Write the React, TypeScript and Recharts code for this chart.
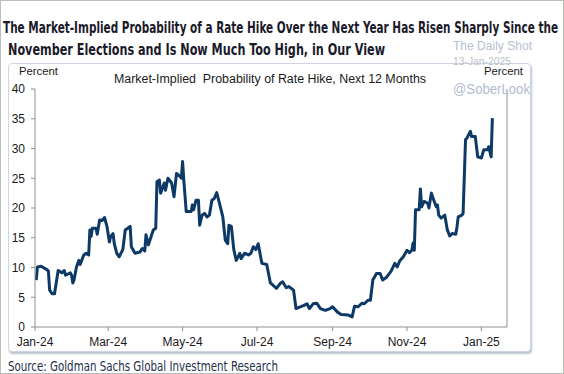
import React from "react";
import { LineChart, Line, XAxis, YAxis } from "recharts";

const dates: string[] = [
  "2024-01-02","2024-01-03","2024-01-06","2024-01-11","2024-01-12","2024-01-13","2024-01-15","2024-01-17","2024-01-20","2024-01-23",
  "2024-01-25","2024-01-26","2024-01-30","2024-01-31","2024-02-01","2024-02-02","2024-02-04","2024-02-06","2024-02-07","2024-02-10",
  "2024-02-12","2024-02-14","2024-02-15","2024-02-16","2024-02-17","2024-02-20","2024-02-21","2024-02-23","2024-02-25","2024-02-27",
  "2024-02-29","2024-03-02","2024-03-03","2024-03-05","2024-03-06","2024-03-08","2024-03-10","2024-03-13","2024-03-15","2024-03-19",
  "2024-03-20","2024-03-23","2024-03-27","2024-03-29","2024-03-31","2024-04-01","2024-04-03","2024-04-06","2024-04-07","2024-04-09",
  "2024-04-10","2024-04-12","2024-04-13","2024-04-15","2024-04-16","2024-04-17","2024-04-19","2024-04-22","2024-04-24","2024-04-26",
  "2024-04-29","2024-04-30","2024-05-01","2024-05-02","2024-05-04","2024-05-08","2024-05-09","2024-05-10","2024-05-12","2024-05-14",
  "2024-05-15","2024-05-17","2024-05-19","2024-05-21","2024-05-23","2024-05-25","2024-05-27","2024-05-29","2024-05-31","2024-06-03",
  "2024-06-05","2024-06-07","2024-06-08","2024-06-10","2024-06-12","2024-06-14","2024-06-17","2024-06-18","2024-06-21","2024-06-24",
  "2024-06-26","2024-06-28","2024-06-30","2024-07-02","2024-07-05","2024-07-09","2024-07-12","2024-07-17","2024-07-20","2024-07-22",
  "2024-07-25","2024-07-27","2024-07-31","2024-08-02","2024-08-08","2024-08-11","2024-08-13","2024-08-16","2024-08-19","2024-08-22",
  "2024-08-26","2024-08-30","2024-09-01","2024-09-05","2024-09-08","2024-09-14","2024-09-17","2024-09-19","2024-09-22","2024-09-25",
  "2024-09-27","2024-09-30","2024-10-02","2024-10-04","2024-10-07","2024-10-10","2024-10-12","2024-10-15","2024-10-19","2024-10-22",
  "2024-10-24","2024-10-26","2024-10-29","2024-11-01","2024-11-03","2024-11-05","2024-11-06","2024-11-07","2024-11-08","2024-11-11",
  "2024-11-12","2024-11-13","2024-11-15","2024-11-18","2024-11-19","2024-11-21","2024-11-23","2024-11-25","2024-11-26","2024-11-27",
  "2024-11-29","2024-12-02","2024-12-04","2024-12-06","2024-12-08","2024-12-11","2024-12-12","2024-12-13","2024-12-16","2024-12-17",
  "2024-12-19","2024-12-20","2024-12-23","2024-12-24","2024-12-27","2024-12-29","2025-01-01","2025-01-03","2025-01-06","2025-01-07",
  "2025-01-09","2025-01-10",
];

const probability: number[] = [
  7.9,10.1,10.2,9.6,9.4,6.2,5.6,5.6,9.5,9.1,
  9.5,8.7,9.1,8.7,7.4,7.9,10.1,11.2,10.5,12.1,
  12.4,12.1,16.3,15.2,16.6,16.6,15.6,18.0,17.9,18.4,
  16.9,14.3,15.2,15.7,14.0,12.4,11.8,13.0,16.3,16.9,
  13.5,12.4,12.6,13.2,12.8,15.5,13.8,15.7,16.3,16.6,
  24.4,24.7,22.5,23.6,24.2,23.0,25.0,24.2,21.9,25.8,
  25.3,25.0,27.8,24.7,19.4,19.4,20.5,19.7,21.3,21.3,
  17.1,18.8,19.1,18.5,18.8,21.3,21.6,22.6,21.0,18.5,
  14.6,14.0,17.1,16.9,13.0,11.2,12.4,11.5,12.4,12.1,
  12.4,13.5,13.0,14.0,10.7,10.5,7.4,6.5,7.3,7.6,
  6.6,6.8,6.2,3.1,3.6,3.9,3.1,3.9,4.0,3.1,
  2.8,3.1,3.4,2.5,2.1,2.0,1.7,3.5,3.4,4.0,
  3.9,4.5,4.5,7.9,9.0,9.0,7.9,8.3,9.4,10.7,
  10.1,11.1,11.8,12.9,12.5,12.9,14.1,12.9,19.7,19.7,
  23.2,20.2,21.1,20.8,20.0,22.5,21.3,20.2,20.5,18.8,
  18.3,18.8,16.4,15.3,15.7,15.6,16.8,18.5,18.8,19.1,
  31.5,31.7,32.9,32.0,32.0,28.6,28.4,29.8,29.8,30.3,
  28.6,35.1,
];

const xTickDates: string[] = ["2024-01-01","2024-03-01","2024-05-01","2024-07-01","2024-09-01","2024-11-01","2025-01-01"];
const xDomainDates: string[] = ["2024-01-01","2025-01-22"];
const yTicks: number[] = [0, 5, 10, 15, 20, 25, 30, 35, 40];
const monthNames: string[] = ["Jan","Feb","Mar","Apr","May","Jun","Jul","Aug","Sep","Oct","Nov","Dec"];

const toT = (s: string) => Date.UTC(+s.slice(0, 4), +s.slice(5, 7) - 1, +s.slice(8, 10));
const fmt = (t: number) => {
  const d = new Date(t);
  return monthNames[d.getUTCMonth()] + "-" + String(d.getUTCFullYear()).slice(2);
};

const data = dates.map((d, i) => ({ t: toT(d), v: probability[i] }));

const SANS = "'Liberation Sans', Arial, sans-serif";
const NARROW = "'Liberation Sans Narrow', 'DejaVu Sans Condensed', 'Roboto Condensed', sans-serif";
const axisColor = "#8f8f8f";
const tickStyle = { fill: "#1a1a1a", fontSize: 12, fontFamily: SANS };

export default function App() {
  return (
    <div
      style={{
        position: "absolute",
        left: 0,
        top: 0,
        width: 564,
        height: 374,
        background: "#fff",
        boxSizing: "border-box",
        border: "1px solid #b9c0b9",
        overflow: "hidden",
      }}
    >
      {/* chart panel box */}
      <div
        style={{
          position: "absolute",
          left: 7,
          top: 62,
          width: 523,
          height: 289,
          boxSizing: "border-box",
          border: "1.5px solid #cdd6e2",
          borderRadius: 4,
          boxShadow: "1px 2px 2px #b8c2d0",
          background: "#fff",
        }}
      />
      <div style={{ position: "absolute", left: -1, top: -1 }}>
        <LineChart
          width={564}
          height={374}
          data={data}
          margin={{ top: 89, right: 27, bottom: 17, left: 5 }}
        >
          <XAxis
            dataKey="t"
            type="number"
            domain={xDomainDates.map(toT)}
            ticks={xTickDates.map(toT)}
            tickFormatter={fmt}
            height={30}
            tickSize={4}
            tickMargin={6}
            stroke={axisColor}
            tick={tickStyle}
            interval={0}
            allowDataOverflow
          />
          <YAxis
            yAxisId="left"
            orientation="left"
            domain={[0, 40]}
            ticks={yTicks}
            width={30}
            tickSize={4}
            tickMargin={6}
            stroke={axisColor}
            tick={tickStyle}
            interval={0}
          />
          <YAxis
            yAxisId="right"
            orientation="right"
            domain={[0, 40]}
            ticks={yTicks}
            width={30}
            tickSize={5}
            tickMargin={4}
            stroke={axisColor}
            tick={{ ...tickStyle, textAnchor: "start" }}
            interval={0}
          />
          <Line
            yAxisId="left"
            dataKey="v"
            type="linear"
            stroke="#0d3966"
            strokeWidth={3}
            dot={false}
            isAnimationActive={false}
            strokeLinejoin="round"
          />
        </LineChart>
      </div>
      <svg
        width={564}
        height={374}
        style={{ position: "absolute", left: -1, top: -1, pointerEvents: "none" }}
      >
        <text x={3} y={33} fontFamily={NARROW} fontWeight="bold" fontSize={16.5} fill="#1a1a2a" textLength={555} lengthAdjust="spacingAndGlyphs">
          The Market-Implied Probability of a Rate Hike Over the Next Year Has Risen Sharply Since the
        </text>
        <text x={8} y={55} fontFamily={NARROW} fontWeight="bold" fontSize={16.5} fill="#1a1a2a" textLength={377} lengthAdjust="spacingAndGlyphs">
          November Elections and Is Now Much Too High, in Our View
        </text>
        <text x={453} y={50} fontFamily={SANS} fontSize={13.5} fill="#b7bfd2" textLength={79} lengthAdjust="spacingAndGlyphs">
          The Daily Shot
        </text>
        <text x={453} y={65} fontFamily={SANS} fontSize={11.5} fill="#bcc0cc" textLength={58} lengthAdjust="spacingAndGlyphs">
          13-Jan-2025
        </text>
        <text x={453} y={94} fontFamily={SANS} fontSize={14} fill="#b4bcd0" textLength={77} lengthAdjust="spacingAndGlyphs">
          @SoberLook
        </text>
        <text x={19} y={75} fontFamily={SANS} fontSize={11.5} fill="#1a1a1a" textLength={39} lengthAdjust="spacingAndGlyphs">
          Percent
        </text>
        <text x={484} y={75} fontFamily={SANS} fontSize={11.5} fill="#1a1a1a" textLength={39} lengthAdjust="spacingAndGlyphs">
          Percent
        </text>
        <text x={114} y={83} fontFamily={SANS} fontSize={12.5} fill="#1a1a1a" textLength={312} lengthAdjust="spacingAndGlyphs" style={{ whiteSpace: "pre" }}>
          {"Market-Implied  Probability of Rate Hike, Next 12 Months"}
        </text>
        <text x={8} y={371} fontFamily={NARROW} fontSize={14} fill="#23304a" textLength={270} lengthAdjust="spacingAndGlyphs">
          Source: Goldman Sachs Global Investment Research
        </text>
      </svg>
    </div>
  );
}
